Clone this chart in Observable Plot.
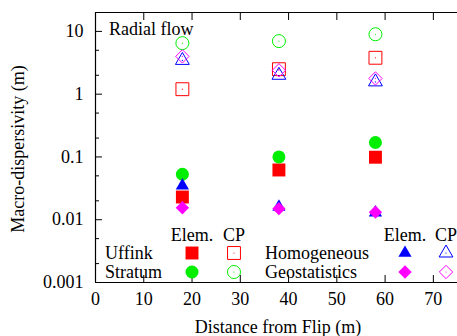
<!DOCTYPE html>
<html>
<head>
<meta charset="utf-8">
<script src="https://cdn.jsdelivr.net/npm/d3@7"></script>
<script src="https://cdn.jsdelivr.net/npm/@observablehq/plot@0.6"></script>
<style>
  body { margin: 0; background: #fff; }
  #chart { position: relative; width: 457px; height: 336px; }
  svg { font-family: "Liberation Serif", "DejaVu Serif", serif; }
</style>
</head>
<body>
<div id="chart"></div>
<script>
// ---- data ----
const distances = [18, 38, 58];
const uffinkElem = [0.023, 0.062, 0.099];
const uffinkCP = [1.2, 2.5, 3.8];
const stratumElem = [0.053, 0.10, 0.17];
const stratumCP = [6.5, 7.0, 9.0];
const homogElem = [0.035, 0.016, 0.013];
const homogCP = [3.45, 2.0, 1.57];
const geoElem = [0.0155, 0.015, 0.0132];
const geoCP = [4.0, 2.4, 1.78];
const yTicks = [0.001, 0.01, 0.1, 1, 10];
const yMinorTicks = [0.002, 0.005, 0.02, 0.05, 0.2, 0.5, 2, 5, 20];
const xTicks = [0, 10, 20, 30, 40, 50, 60, 70];
const xDomain = [0, 75];
const yDomain = [0.001, 20];

const series = [
  {name: "Uffink", kind: "Elem.", values: uffinkElem, color: "#ff0000", symbol: "square", fill: true, r: 7.3},
  {name: "Uffink", kind: "CP", values: uffinkCP, color: "#ff0000", symbol: "square2", fill: false, r: 8.2},
  {name: "Stratum", kind: "Elem.", values: stratumElem, color: "#00ee00", symbol: "circle", fill: true, r: 6.5},
  {name: "Stratum", kind: "CP", values: stratumCP, color: "#00ee00", symbol: "circle", fill: false, r: 6.5},
  {name: "Homogeneous", kind: "Elem.", values: homogElem, color: "#0000ff", symbol: "triangle", fill: true, r: 4.9},
  {name: "Homogeneous", kind: "CP", values: homogCP, color: "#0000ff", symbol: "triangle2", fill: false, r: 6.6},
  {name: "Geostatistics", kind: "Elem.", values: geoElem, color: "#ff00ff", symbol: "diamond2", fill: true, r: 6.0},
  {name: "Geostatistics", kind: "CP", values: geoCP, color: "#ff00ff", symbol: "diamond2", fill: false, r: 6.0}
];

const rows = series.map(s => distances.map((d, i) => ({x: d, y: s.values[i]})));

const marks = [];
series.forEach((s, k) => {
  if (s.fill) {
    marks.push(Plot.dot(rows[k], {x: "x", y: "y", symbol: () => s.symbol, r: s.r, fill: s.color, stroke: "none"}));
  } else {
    marks.push(Plot.dot(rows[k], {x: "x", y: "y", symbol: () => s.symbol, r: s.r, fill: "none", stroke: s.color, strokeWidth: 1}));
    marks.push(Plot.dot(rows[k], {x: "x", y: "y", r: 0.6, fill: s.color, stroke: "none"}));
  }
});

const plot = Plot.plot({
  width: 457,
  height: 336,
  marginLeft: 95,
  marginRight: 0,
  marginTop: 12,
  marginBottom: 54,
  style: {fontFamily: "Liberation Serif, serif", fontSize: "18px", color: "#000", background: "#fff"},
  x: {domain: xDomain},
  y: {type: "log", domain: yDomain},
  marks: [
    Plot.axisY(yTicks, {anchor: "left", tickSize: -7, tickPadding: 19, tickFormat: d => String(d), label: null, fontSize: 18}),
    Plot.axisY(yMinorTicks, {anchor: "left", tickSize: -4, text: null, label: null}),
    Plot.axisX(xTicks, {anchor: "bottom", tickSize: -7, tickPadding: 17, label: null, fontSize: 18}),
    Plot.axisX(xTicks, {anchor: "top", tickSize: -7, text: null, label: null}),
    Plot.ruleX([xDomain[0]], {stroke: "#000", strokeWidth: 1.2}),
    Plot.ruleY([yDomain[0]], {stroke: "#000", strokeWidth: 1.2}),
    Plot.ruleY([yDomain[1]], {stroke: "#000", strokeWidth: 1.2}),
    ...marks
  ]
});
document.getElementById("chart").appendChild(plot);

// ---- labels and legend overlay ----
const svg = d3.select(plot);
const g = svg.append("g").attr("font-family", "Liberation Serif, serif").attr("font-size", 18).attr("fill", "#000");
g.append("text").attr("x", 109).attr("y", 35).attr("text-anchor", "start").text("Radial flow");
g.append("text").attr("x", 278).attr("y", 333).attr("text-anchor", "middle").text("Distance from Flip (m)");
g.append("text").attr("transform", "translate(18,149) rotate(-90)").attr("dy", "0.35em").attr("text-anchor", "middle").text("Macro-dispersivity (m)");

const symMap = {square: d3.symbolSquare, square2: d3.symbolSquare2, circle: d3.symbolCircle,
  triangle: d3.symbolTriangle, triangle2: d3.symbolTriangle2, diamond2: d3.symbolDiamond2};
const legendCols = [
  {names: ["Uffink", "Stratum"], textX: 105, elemX: 192, cpX: 234},
  {names: ["Homogeneous", "Geostatistics"], textX: 265, elemX: 405, cpX: 446}
];
const headerY = 235, rowY = [253, 272];
legendCols.forEach(col => {
  g.append("text").attr("x", col.elemX).attr("y", headerY).attr("dy", "0.35em").attr("text-anchor", "middle").text("Elem.");
  g.append("text").attr("x", col.cpX).attr("y", headerY).attr("dy", "0.35em").attr("text-anchor", "middle").text("CP");
  col.names.forEach((nm, j) => {
    g.append("text").attr("x", col.textX).attr("y", rowY[j]).attr("dy", "0.35em").attr("text-anchor", "start").text(nm);
    series.filter(s => s.name === nm).forEach(s => {
      const cx = s.kind === "Elem." ? col.elemX : col.cpX;
      const path = d3.symbol(symMap[s.symbol], Math.PI * s.r * s.r)();
      g.append("path").attr("d", path).attr("transform", `translate(${cx},${rowY[j]})`)
        .attr("fill", s.fill ? s.color : "none").attr("stroke", s.fill ? "none" : s.color);
      if (!s.fill) g.append("circle").attr("cx", cx).attr("cy", rowY[j]).attr("r", 0.6).attr("fill", s.color);
    });
  });
});
</script>
</body>
</html>
